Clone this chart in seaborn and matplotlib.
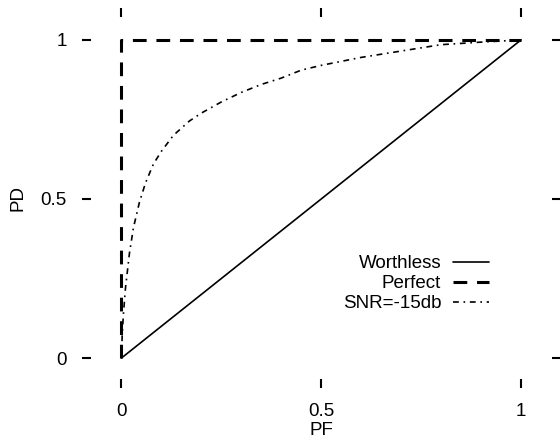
import matplotlib
matplotlib.use("Agg")
import matplotlib.pyplot as plt
import seaborn as sns
import numpy as np

# Data
worthless_pf = [0.0, 1.0]
worthless_pd = [0.0, 1.0]
perfect_pf = [0.0, 0.0, 1.0]
perfect_pd = [0.0, 1.0, 1.0]
snr_pf = [0.0, 0.002, 0.005, 0.01, 0.02, 0.03, 0.045, 0.06, 0.08, 0.1, 0.13,
          0.17, 0.2, 0.25, 0.3, 0.35, 0.4, 0.45, 0.5, 0.6, 0.7, 0.8, 0.9, 1.0]
snr_pd = [0.0, 0.08, 0.14, 0.22, 0.33, 0.41, 0.49, 0.55, 0.61, 0.65, 0.70,
          0.745, 0.77, 0.805, 0.835, 0.86, 0.88, 0.905, 0.92, 0.945, 0.965,
          0.985, 0.993, 1.0]
labels = ["Worthless", "Perfect", "SNR=-15db"]
xticks = [0, 0.5, 1]
xticklabels = ["0", "0.5", "1"]
yticks = [0, 0.5, 1]
yticklabels = ["0", "0.5", "1"]

sns.set_style("white")
plt.rcParams['font.family'] = ['Liberation Sans', 'DejaVu Sans']
plt.rcParams['text.color'] = 'black'
plt.rcParams['axes.labelcolor'] = 'black'
plt.rcParams['xtick.color'] = 'black'
plt.rcParams['ytick.color'] = 'black'
FS = 13.5

fig = plt.figure(figsize=(5.6, 4.43), dpi=100)
ax = fig.add_axes([91/560, 1-379/443, (552-91)/560, (379-17)/443])

sns.lineplot(x=worthless_pf, y=worthless_pd, ax=ax, color="black", lw=1.2,
             label=labels[0], sort=False, estimator=None)
sns.lineplot(x=perfect_pf, y=perfect_pd, ax=ax, color="black", lw=2.2,
             label=labels[1], sort=False, estimator=None,
             linestyle=(0, (4.5, 3.2)))
sns.lineplot(x=snr_pf, y=snr_pd, ax=ax, color="black", lw=1.2,
             label=labels[2], sort=False, estimator=None,
             linestyle=(0, (3.5, 2.8, 1, 2.8)))

ax.set_xlim(-0.0763, 1.0776)
ax.set_ylim(-0.066, 1.072)
for s in ax.spines.values():
    s.set_visible(False)
ax.set_xticks(xticks)
ax.set_xticklabels(xticklabels)
ax.set_yticks(yticks)
ax.set_yticklabels(yticklabels)
ax.tick_params(axis="both", which="major", direction="out", length=6.5,
               width=1.5, color="black", labelcolor="black", labelsize=FS,
               pad=11, top=True, right=True, bottom=True, left=True,
               labeltop=False, labelright=False)
ax.set_xlabel("PF", fontsize=FS, labelpad=1, color="black")
ax.set_ylabel("PD", fontsize=FS, labelpad=10, color="black")

leg = ax.legend(loc="center right", bbox_to_anchor=(0.92, 0.234),
                bbox_transform=ax.transData, frameon=False, markerfirst=False,
                fontsize=FS, handlelength=1.9, handletextpad=0.65,
                labelspacing=0.15, borderpad=0, borderaxespad=0,
                labelcolor="black")

fig.savefig("out.png", dpi=100)
